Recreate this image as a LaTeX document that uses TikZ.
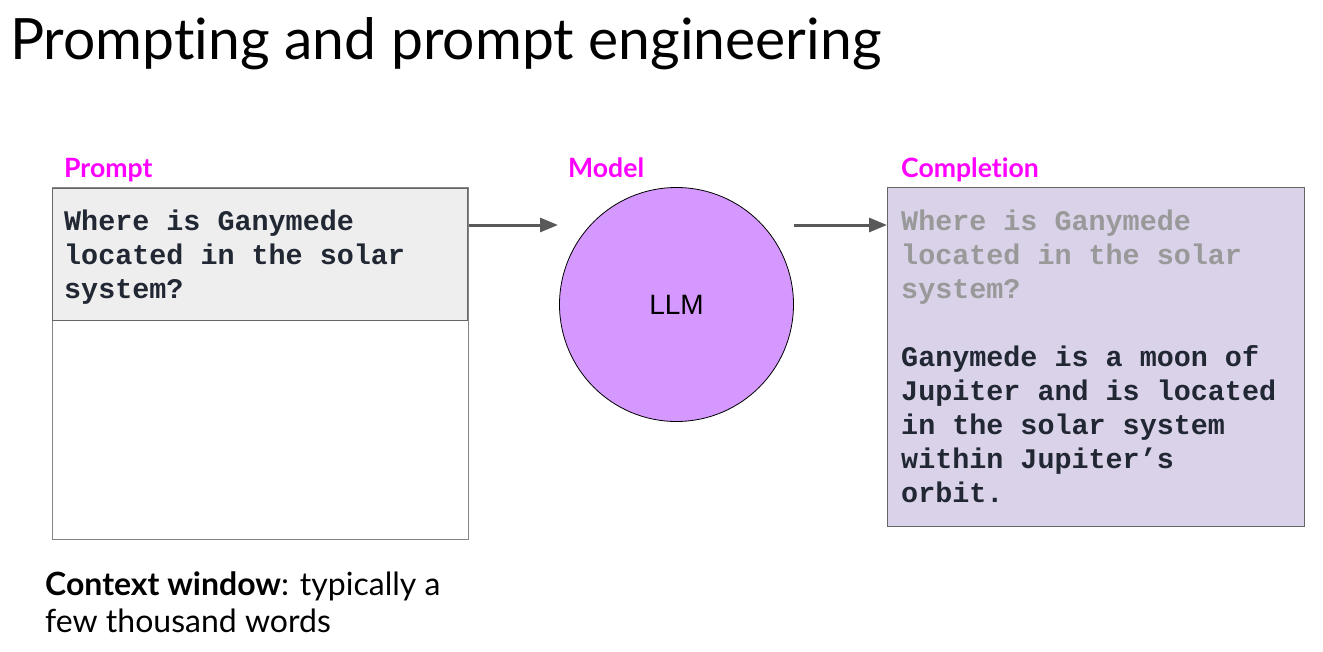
\documentclass[tikz,border=0pt]{standalone}
\usepackage{fontspec}
\setmainfont{Lato}[Ligatures={TeX,NoCommon}]
\newfontfamily\codefont{Liberation Mono}
\newfontfamily\arialfont{Liberation Sans}
\usetikzlibrary{arrows.meta}
\usetikzlibrary{positioning}
\definecolor{labelpink}{RGB}{255,0,255}
\definecolor{querygrey}{RGB}{238,238,238}
\definecolor{edgegrey}{RGB}{102,102,102}
\definecolor{llmviolet}{RGB}{213,152,255}
\definecolor{complviolet}{RGB}{217,210,233}
\definecolor{codeink}{RGB}{33,40,52}
\definecolor{echogrey}{RGB}{153,153,153}
\definecolor{arrowgrey}{RGB}{89,89,89}
\tikzset{
  lbl/.style={anchor=base west, inner sep=0pt, text=labelpink,
    font=\fontsize{26.6}{30}\selectfont\bfseries},
  code/.style={anchor=base west, inner sep=0pt, text=codeink,
    font=\fontsize{28.4}{34}\selectfont\codefont\bfseries},
  panel/.style={draw=edgegrey, line width=1.2pt, anchor=north west, inner sep=0pt},
  flow/.style={-{Triangle[length=18pt,width=14pt]}, line width=3pt, arrowgrey},
}
\begin{document}
\begin{tikzpicture}[x=1pt, y=-1pt]
  \useasboundingbox (0,0) rectangle (1323,651);

  \node [anchor=base west, inner sep=0pt, font=\fontsize{57}{66}\selectfont] (title) at (10,59) {Prompting and prompt engineering};

  % labels
  \node [lbl] (promptlbl) at (64,177) {Prompt};
  \node [lbl] (modellbl) at (568,177) {Model};
  \node [lbl] (compllbl) at (901,177) {Completion};

  % prompt / context window
  \node [panel, draw=edgegrey!80, minimum width=416pt, minimum height=352pt] (prompt) at (52,187) {};
  \node [panel, fill=querygrey, minimum width=415pt, minimum height=132pt] (query) at (52,188) {};
  \node [code] (querytext) at (64,230) {\parbox[t]{390pt}{Where is Ganymede\\ located in the solar\\ system?}};

  % model
  \node [draw, circle, fill=llmviolet, line width=0.8pt, minimum size=234pt, inner sep=0pt,
    font=\fontsize{28}{32}\selectfont\arialfont] (llm) at (676.5,304.5) {LLM};

  % completion
  \node [panel, fill=complviolet, minimum width=417pt, minimum height=339pt] (completion) at (887,187) {};
  \node [code] (compltext) at (901,230) {\parbox[t]{395pt}{\leavevmode{\color{echogrey}Where is Ganymede\\ located in the solar\\ system?}\\[34pt]
    Ganymede is a moon of\\ Jupiter and is located\\ in the solar system\\ within Jupiter’s\\ orbit.}};

  \coordinate (inend) at (558,225);
  \coordinate (outstart) at (794,225);
  \draw [flow] (prompt.east |- inend) -- (inend);
  \draw [flow] (outstart) -- (completion.west |- outstart);

  \node [anchor=base west, inner sep=0pt, font=\fontsize{32}{37}\selectfont] (ctx) at (45,595)
    {\parbox[t]{420pt}{\textbf{Context window}: typically a\\ few thousand words}};

\end{tikzpicture}
\end{document}
